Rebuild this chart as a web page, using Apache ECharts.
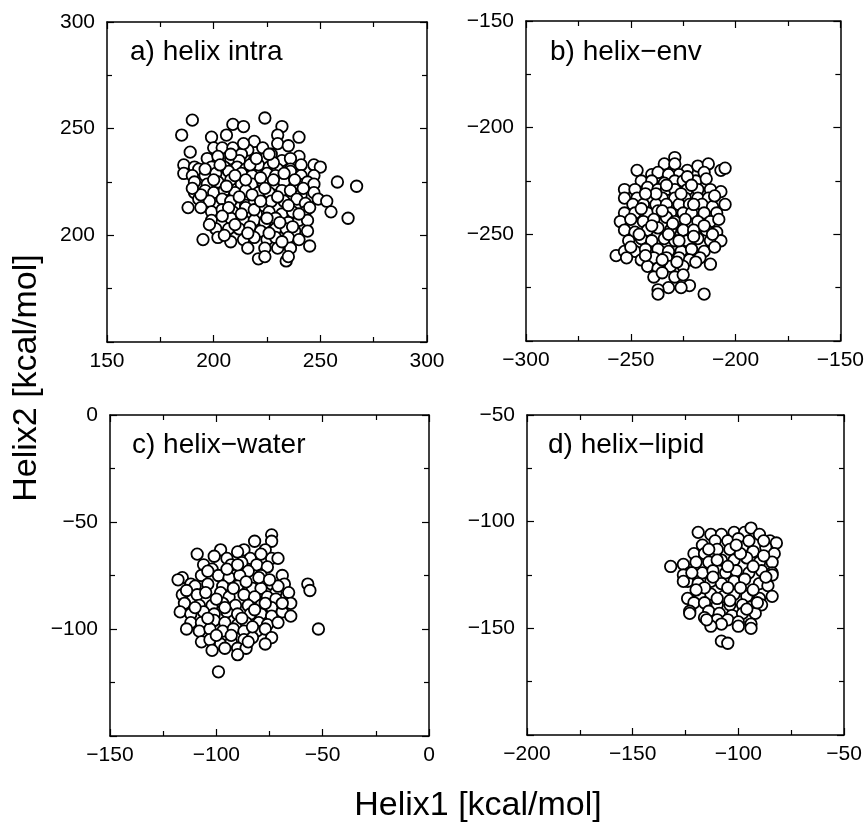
<!DOCTYPE html>
<html>
<head>
<meta charset="utf-8">
<script src="https://cdn.jsdelivr.net/npm/echarts@6/dist/echarts.min.js"></script>
<style>
html,body{margin:0;padding:0;background:#fff;}
#chart{width:867px;height:825px;}
</style>
</head>
<body>
<div id="chart"></div>
<script>
// ---- Data (kcal/mol): [Helix1, Helix2] ----
const panelLabels = ['a) helix intra', 'b) helix\u2212env', 'c) helix\u2212water', 'd) helix\u2212lipid'];
const xTitle = 'Helix1 [kcal/mol]';
const yTitle = 'Helix2 [kcal/mol]';

const xRangeA = [150, 300], yRangeA = [150, 300];
const xRangeB = [-300, -150], yRangeB = [-300, -150];
const xRangeC = [-150, 0], yRangeC = [-150, 0];
const xRangeD = [-200, -50], yRangeD = [-200, -50];

const helixIntra = [
[190,254],[185,247],[209,252],[214,251],[206,247],[224,255],[232,251],[199,246],[230,247],[240,246],
[189,239],[219,244],[200,241],[204,241],[209,241],[216,240],[223,241],[230,243],[235,242],[227,238],[213,238],[240,237],
[197,236],[202,237],[208,236],[212,235],[219,235],[224,236],[232,235],[236,236],
[186,233],[191,232],[193,231],[199,232],[205,232],[211,232],[215,231],[221,233],[226,232],[230,231],[236,231],[241,233],[247,233],[250,232],
[186,229],[190,228],[196,228],[201,229],[207,230],[213,229],[218,228],[225,229],[229,228],[236,230],[241,228],[247,228],
[191,225],[197,224],[202,225],[208,226],[213,224],[218,224],[223,225],[229,224],[233,225],[240,224],[244,225],[247,224],[258,225],[267,223],
[191,220],[196,221],[200,220],[205,221],[210,220],[215,221],[221,220],[226,220],[232,221],[236,221],[241,219],[247,220],[249,217],[253,216],
[193,217],[198,216],[204,217],[208,216],[215,214],[219,215],[223,214],[227,216],[233,216],[239,217],[243,215],[255,211],[263,208],
[188,213],[194,213],[199,211],[204,212],[209,211],[215,213],[220,210],[226,211],[232,210],[237,211],[243,211],
[199,207],[204,206],[208,208],[214,207],[219,207],[224,206],[229,208],[235,206],[240,207],[244,207],
[201,203],[207,203],[212,203],[217,204],[222,202],[229,203],[234,203],[238,202],[244,202],
[195,198],[202,199],[208,197],[214,198],[219,199],[225,198],[229,199],[235,199],[240,198],[245,195],
[216,194],[224,194],[230,194],[236,194],[221,189],[224,190],[234,188],[235,190],
[203,233],[210,228],[217,233],[222,227],[228,234],[233,229],[238,226],[206,223],[212,218],[218,219],
[224,222],[230,218],[235,214],[200,226],[196,231],[207,213],[213,210],[219,212],[225,208],[231,206],
[237,204],[210,205],[204,209],[216,201],[226,201],[232,197],[220,236],[226,238],[214,243],[208,238],
[242,222],[245,213],[240,210],[194,219],[190,222],[198,205],[205,200],[222,216],[228,226],[215,226]
];

const helixEnv = [
[-229,-214],[-234,-217],[-229,-217],[-247,-220],[-240,-222],[-237,-221],[-223,-220],[-218,-218],[-213,-217],[-207,-220],
[-215,-221],[-227,-222],[-232,-222],[-245,-225],[-240,-225],[-234,-226],[-229,-225],[-225,-225],[-219,-225],[-214,-224],[-223,-223],
[-253,-229],[-248,-229],[-242,-228],[-237,-229],[-233,-229],[-229,-229],[-223,-229],[-218,-229],[-212,-229],[-207,-230],
[-253,-233],[-247,-233],[-240,-233],[-235,-233],[-229,-233],[-224,-233],[-218,-233],[-213,-233],[-205,-236],
[-249,-236],[-244,-236],[-238,-236],[-233,-236],[-227,-236],[-222,-236],[-216,-236],[-211,-237],
[-253,-240],[-248,-240],[-242,-240],[-237,-239],[-231,-240],[-225,-240],[-221,-240],[-215,-240],[-209,-240],
[-255,-244],[-250,-243],[-244,-244],[-239,-243],[-233,-242],[-229,-244],[-224,-243],[-218,-244],[-212,-244],[-208,-243],
[-253,-248],[-248,-249],[-242,-248],[-237,-247],[-231,-248],[-225,-248],[-220,-248],[-214,-248],[-209,-249],
[-251,-253],[-245,-252],[-240,-253],[-234,-252],[-229,-253],[-223,-253],[-218,-252],[-212,-253],[-207,-253],
[-257,-260],[-253,-258],[-248,-258],[-243,-257],[-237,-257],[-232,-258],[-226,-258],[-221,-257],[-215,-258],[-210,-256],
[-252,-261],[-245,-262],[-239,-261],[-233,-261],[-227,-261],[-222,-262],[-217,-261],[-212,-264],
[-242,-265],[-237,-266],[-231,-265],[-225,-265],[-239,-270],[-235,-268],[-229,-270],[-225,-269],
[-222,-274],[-226,-275],[-232,-275],[-237,-276],[-237,-278],[-215,-278],
[-245,-238],[-240,-246],[-235,-239],[-230,-245],[-226,-231],[-220,-236],[-215,-246],[-232,-250],[-227,-253],[-220,-251],
[-238,-231],[-243,-231],[-210,-232],[-250,-256],[-235,-262],[-228,-263],[-219,-263],[-243,-260],[-233,-227],[-221,-227],
[-246,-250],[-211,-250],[-205,-219]
];

const helixWater = [
[-74,-56],[-74,-59],[-82,-59],[-77,-63],[-87,-63],[-90,-64],[-98,-63],[-109,-65],[-101,-66],[-95,-67],[-84,-67],[-74,-67],[-71,-67],
[-106,-70],[-93,-70],[-88,-69],[-81,-70],[-76,-71],[-102,-72],[-85,-73],
[-116,-76],[-118,-77],[-112,-79],[-107,-75],[-99,-75],[-94,-76],[-89,-75],[-79,-75],[-69,-75],[-74,-79],[-68,-79],[-57,-79],[-56,-82],
[-110,-80],[-104,-79],[-97,-80],[-90,-80],[-83,-81],[-79,-81],[-72,-83],[-66,-83],
[-116,-84],[-109,-84],[-105,-83],[-98,-83],[-94,-85],[-87,-84],[-82,-85],[-76,-85],[-72,-86],[-67,-88],[-65,-88],
[-115,-88],[-108,-89],[-102,-89],[-97,-88],[-91,-89],[-85,-89],[-79,-89],[-74,-90],
[-117,-92],[-112,-93],[-106,-92],[-101,-93],[-95,-92],[-90,-93],[-84,-93],[-79,-93],[-74,-94],[-69,-92],[-65,-94],
[-112,-97],[-107,-97],[-101,-96],[-96,-97],[-90,-98],[-86,-97],[-80,-97],[-76,-98],[-71,-97],
[-114,-100],[-108,-101],[-103,-100],[-97,-101],[-92,-100],[-87,-101],[-81,-101],[-77,-100],[-74,-104],[-52,-100],
[-107,-106],[-103,-105],[-98,-107],[-93,-106],[-87,-105],[-83,-104],[-77,-107],
[-102,-110],[-96,-109],[-90,-109],[-86,-109],[-90,-112],[-99,-120],
[-104,-73],[-95,-72],[-86,-78],[-80,-76],[-100,-86],[-92,-81],[-88,-95],[-82,-91],[-77,-88],[-96,-90],
[-104,-95],[-110,-90],[-93,-103],[-83,-99],[-71,-80],[-69,-88],[-75,-77],[-90,-70],[-100,-103],[-79,-65],
[-114,-82],[-85,-106]
];

const helixLipid = [
[-119,-105],[-113,-106],[-108,-106],[-102,-105],[-97,-105],[-94,-103],[-90,-106],[-85,-109],[-82,-110],[-105,-109],
[-100,-108],[-111,-109],[-117,-111],
[-132,-121],[-126,-120],[-121,-115],[-116,-115],[-110,-113],[-104,-113],[-98,-112],[-93,-114],[-87,-112],[-83,-115],
[-120,-119],[-114,-119],[-108,-118],[-102,-118],[-96,-117],[-90,-119],[-84,-119],
[-123,-124],[-117,-124],[-112,-123],[-106,-124],[-101,-123],[-95,-124],[-89,-123],[-84,-124],
[-124,-128],[-119,-129],[-113,-128],[-108,-129],[-102,-128],[-97,-127],[-90,-129],[-86,-130],
[-124,-136],[-118,-134],[-113,-134],[-107,-135],[-102,-134],[-96,-135],[-90,-136],[-84,-135],
[-121,-138],[-116,-138],[-110,-139],[-104,-139],[-98,-139],[-94,-140],[-89,-139],
[-123,-142],[-114,-142],[-109,-143],[-103,-144],[-98,-143],[-92,-143],
[-116,-145],[-110,-146],[-105,-146],[-100,-147],[-94,-148],[-100,-149],[-94,-150],[-108,-148],[-113,-149],
[-108,-156],[-105,-157],
[-126,-125],[-126,-128],[-122,-124],[-123,-143],[-115,-146],[-84,-125],
[-110,-118],[-105,-121],[-99,-115],[-93,-121],[-88,-116],[-112,-126],[-105,-131],[-99,-131],[-93,-132],[-87,-126],
[-116,-131],[-110,-136],[-104,-137],[-96,-141],[-91,-138],[-101,-111],[-95,-109],[-114,-113],[-120,-132],[-88,-109]
];

// ---- Layout ----
const grids = [
  {left:107, top:22, width:320, height:320},
  {left:526, top:21, width:317, height:320},
  {left:110, top:415, width:319, height:321},
  {left:527, top:415, width:317, height:320}
];
const xRanges = [xRangeA, xRangeB, xRangeC, xRangeD];
const yRanges = [yRangeA, yRangeB, yRangeC, yRangeD];
const datasets = [helixIntra, helixEnv, helixWater, helixLipid];
const labelPos = [[130,38],[550,38],[132,431],[548,431]];

const FONT = '"Liberation Sans", Arial, Helvetica, sans-serif';
const fmt = v => (v < 0 ? '\u2212' + Math.abs(v) : String(v));

function axisCommon(range, showLabel, position, gridIndex, isX) {
  return {
    type: 'value',
    gridIndex: gridIndex,
    position: position,
    min: range[0], max: range[1], interval: 50,
    axisLine: {show: true, onZero: false, lineStyle: {color: '#000', width: 1.5}},
    axisTick: {show: true, inside: true, length: 7, lineStyle: {color: '#000', width: 1.2}},
    minorTick: {show: true, splitNumber: 2, length: 5, lineStyle: {color: '#000', width: 1.2}},
    splitLine: {show: false},
    axisLabel: {
      show: showLabel,
      formatter: isX ? fmt : (v => (v === range[0] ? '' : fmt(v))),
      color: '#000',
      fontFamily: FONT,
      fontSize: 21,
      margin: isX ? 9 : 12
    }
  };
}

const xAxis = [], yAxis = [], series = [], title = [];
for (let i = 0; i < 4; i++) {
  xAxis.push(axisCommon(xRanges[i], true, 'bottom', i, true));
  xAxis.push(axisCommon(xRanges[i], false, 'top', i, true));
  yAxis.push(axisCommon(yRanges[i], true, 'left', i, false));
  yAxis.push(axisCommon(yRanges[i], false, 'right', i, false));
  series.push({
    type: 'scatter',
    xAxisIndex: 2 * i,
    yAxisIndex: 2 * i,
    data: datasets[i],
    symbol: 'circle',
    symbolSize: 11.5,
    itemStyle: {color: '#fff', borderColor: '#000', borderWidth: 1.8, opacity: 1},
    emphasis: {disabled: true},
    silent: true
  });
  title.push({
    text: panelLabels[i],
    left: labelPos[i][0],
    top: labelPos[i][1],
    padding: 0,
    textStyle: {fontFamily: FONT, fontSize: 28, fontWeight: 'normal', color: '#000'}
  });
}

const chart = echarts.init(document.getElementById('chart'), null, {renderer: 'canvas'});
chart.setOption({
  animation: false,
  backgroundColor: '#fff',
  title: title,
  grid: grids,
  xAxis: xAxis,
  yAxis: yAxis,
  series: series,
  graphic: [
    {type: 'text', x: 478, y: 806,
     style: {text: xTitle, font: '34px ' + FONT, fill: '#000', textAlign: 'center', textVerticalAlign: 'middle'}},
    {type: 'text', x: 27, y: 378, rotation: Math.PI / 2,
     style: {text: yTitle, font: '34px ' + FONT, fill: '#000', textAlign: 'center', textVerticalAlign: 'middle'}}
  ]
});
</script>
</body>
</html>
